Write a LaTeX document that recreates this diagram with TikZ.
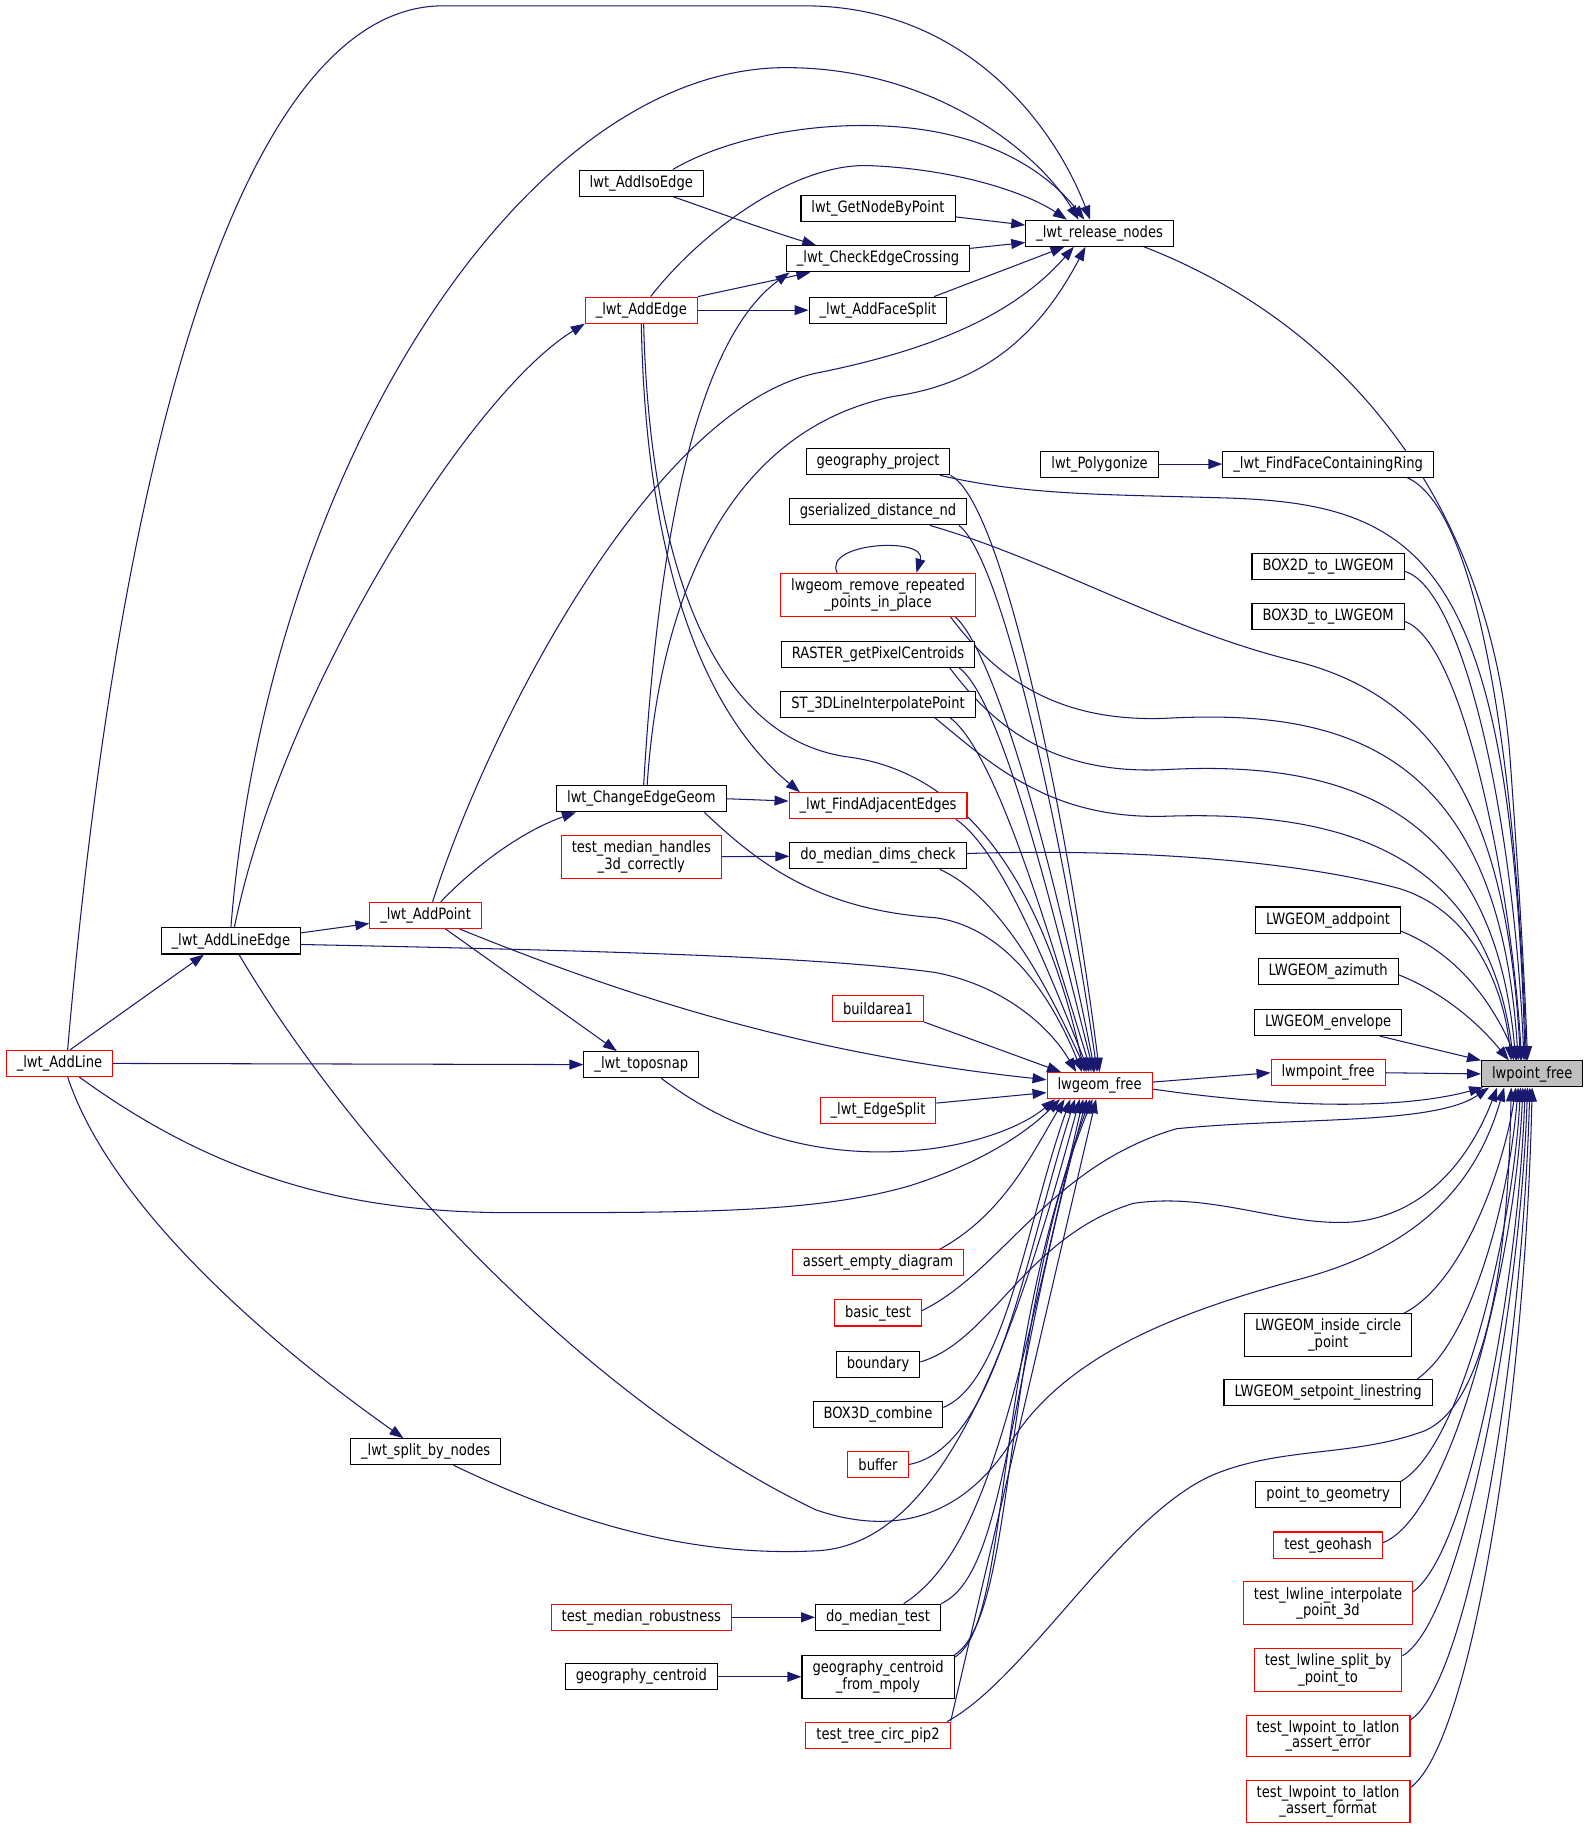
\documentclass[tikz,border=0pt]{standalone}
\usepackage{fontspec}
\newfontfamily\dxfont{DejaVu Sans}[FakeStretch=0.84]
\usetikzlibrary{arrows.meta}
\usetikzlibrary{backgrounds}
\definecolor{edgeblue}{HTML}{191970}
\definecolor{rootgray}{HTML}{BFBFBF}
\tikzset{fn/.style={draw=black, fill=white, line width=0.9pt, inner xsep=9pt, inner ysep=4.5pt, minimum height=22pt, align=center, font=\dxfont\fontsize{13.4pt}{12.7pt}\selectfont}}
\tikzset{fnred/.style={fn, draw=red}}
\tikzset{fnroot/.style={fn, fill=rootgray}}
\tikzset{calls/.style={draw=edgeblue, line width=0.9pt, -{Triangle[length=12pt,width=8.5pt]}}}
\begin{document}
\begin{tikzpicture}[x=1pt,y=-1pt]
\useasboundingbox (0,0) rectangle (1363,1566);
\node[fnred] (addline) at (51,912) {\_lwt\_AddLine};
\node[fn] (addlineedge) at (198,807) {\_lwt\_AddLineEdge};
\node[fnred] (addpoint) at (365,785) {\_lwt\_AddPoint};
\node[fn] (split) at (365,1245) {\_lwt\_split\_by\_nodes};
\node[fn] (isoedge) at (550,157) {lwt\_AddIsoEdge};
\node[fnred] (addedge) at (550,266) {\_lwt\_AddEdge};
\node[fn] (chgeom) at (550,685) {lwt\_ChangeEdgeGeom};
\node[fnred] (tmh3d) at (550,735) {test\_median\_handles\\\_3d\_correctly};
\node[fn] (toposnap) at (550,913) {\_lwt\_toposnap};
\node[fnred] (tmrob) at (550,1387) {test\_median\_robustness};
\node[fn] (geocent) at (550,1438) {geography\_centroid};
\node[fn] (getnode) at (753,179) {lwt\_GetNodeByPoint};
\node[fn] (crossing) at (753,222) {\_lwt\_CheckEdgeCrossing};
\node[fn] (facesplit) at (753,266) {\_lwt\_AddFaceSplit};
\node[fn] (geoproj) at (753,396) {geography\_project};
\node[fn] (gsdist) at (753,439) {gserialized\_distance\_nd};
\node[fnred] (remrep) at (753,510) {lwgeom\_remove\_repeated\\\_points\_in\_place};
\node[fn] (raster) at (753,561) {RASTER\_getPixelCentroids};
\node[fn] (interp) at (753,604) {ST\_3DLineInterpolatePoint};
\node[fnred] (adjedges) at (753,691) {\_lwt\_FindAdjacentEdges};
\node[fn] (dimscheck) at (753,734) {do\_median\_dims\_check};
\node[fnred] (buildarea) at (753,865) {buildarea1};
\node[fnred] (edgesplit) at (753,952) {\_lwt\_EdgeSplit};
\node[fnred] (aed) at (753,1083) {assert\_empty\_diagram};
\node[fnred] (basic) at (753,1126) {basic\_test};
\node[fn] (boundary) at (753,1170) {boundary};
\node[fn] (b3dcomb) at (753,1213) {BOX3D\_combine};
\node[fnred] (buffer) at (753,1256) {buffer};
\node[fn] (medtest) at (753,1387) {do\_median\_test};
\node[fn] (geocentmp) at (753,1438) {geography\_centroid\\\_from\_mpoly};
\node[fnred] (tree) at (753,1488) {test\_tree\_circ\_pip2};
\node[fn] (release) at (943,200) {\_lwt\_release\_nodes};
\node[fn] (polygonize) at (943,398) {lwt\_Polygonize};
\node[fnred] (gfree) at (943,931) {lwgeom\_free};
\node[fn] (findface) at (1139,398) {\_lwt\_FindFaceContainingRing};
\node[fn] (box2d) at (1139,486) {BOX2D\_to\_LWGEOM};
\node[fn] (box3d) at (1139,529) {BOX3D\_to\_LWGEOM};
\node[fn] (addpt) at (1139,789) {LWGEOM\_addpoint};
\node[fn] (azimuth) at (1139,833) {LWGEOM\_azimuth};
\node[fn] (envelope) at (1139,877) {LWGEOM\_envelope};
\node[fnred] (mpfree) at (1139,920) {lwmpoint\_free};
\node[fn] (incircle) at (1139,1145) {LWGEOM\_inside\_circle\\\_point};
\node[fn] (setpoint) at (1139,1194) {LWGEOM\_setpoint\_linestring};
\node[fn] (pt2geom) at (1139,1282) {point\_to\_geometry};
\node[fnred] (geohash) at (1139,1325) {test\_geohash};
\node[fnred] (tlip3d) at (1139,1375) {test\_lwline\_interpolate\\\_point\_3d};
\node[fnred] (tlsplit) at (1139,1432) {test\_lwline\_split\_by\\\_point\_to};
\node[fnred] (tlerr) at (1139,1489) {test\_lwpoint\_to\_latlon\\\_assert\_error};
\node[fnred] (tlfmt) at (1139,1545) {test\_lwpoint\_to\_latlon\\\_assert\_format};
\node[fnroot] (root) at (1314,921) {lwpoint\_free};
\begin{scope}[on background layer]
\fill[white] (0,0) rectangle (1363,1566);
% calls into lwpoint_free
\draw[calls] ([xshift=38pt]release.south) .. controls (1170,285) and (1280,450) .. (1295,650) .. controls (1303,760) and (1308,850) .. ([xshift=-4pt]root.north);
\draw[calls] ([xshift=-23pt]findface.south east) .. controls (1275,440) and (1302,700) .. ([xshift=-5pt]root.north);
\draw[calls] ([yshift=-4pt]box2d.east) .. controls (1255,505) and (1298,700) .. ([xshift=-7pt]root.north);
\draw[calls] ([yshift=-4pt]box3d.east) .. controls (1255,550) and (1296,760) .. ([xshift=-9pt]root.north);
\draw[calls] ([xshift=-9pt]geoproj.south east) .. controls (880,425) and (950,424) .. (1050,427) .. controls (1220,432) and (1295,480) .. ([xshift=-6pt]root.north);
\draw[calls] ([xshift=-32pt]gsdist.south east) .. controls (900,480) and (1000,540) .. (1111,567) .. controls (1230,597) and (1292,690) .. ([xshift=-10pt]root.north);
\draw[calls] ([xshift=-22pt]remrep.south east) .. controls (850,575) and (900,620) .. (1000,616) .. controls (1150,608) and (1285,640) .. ([xshift=-12pt]root.north);
\draw[calls] ([xshift=-22pt]raster.south east) .. controls (850,620) and (900,665) .. (1000,660) .. controls (1150,652) and (1280,690) .. ([xshift=-14pt]root.north);
\draw[calls] ([xshift=-35pt]interp.south east) .. controls (850,655) and (900,703) .. (1000,700) .. controls (1150,695) and (1275,730) .. ([xshift=-16pt]root.north);
\draw[calls] ([yshift=2pt]dimscheck.east) .. controls (950,728) and (1100,735) .. (1200,762) .. controls (1265,782) and (1290,850) .. ([xshift=-18pt]root.north);
\draw[calls] ([yshift=2pt]addpt.south east) .. controls (1250,818) and (1280,860) .. ([xshift=-13pt]root.north);
\draw[calls] ([yshift=-3pt]azimuth.east) .. controls (1240,852) and (1270,880) .. ([xshift=-20pt]root.north);
\draw[calls] ([xshift=-19pt]envelope.south east) -- (root.north west);
\draw[calls] (mpfree.east) -- (root.west);
\draw[calls] ([yshift=-3pt]gfree.east) .. controls (1100,950) and (1200,952) .. ([xshift=-42pt]root.south);
\draw[calls] ([yshift=2pt]basic.east) .. controls (860,1090) and (900,1000) .. (1009,968) .. controls (1110,958) and (1230,965) .. ([xshift=-37pt]root.south);
\draw[calls] ([yshift=2pt]boundary.east) .. controls (850,1150) and (880,1060) .. (972,1032) .. controls (1040,1022) and (1100,1052) .. (1160,1048) .. controls (1225,1042) and (1262,990) .. ([xshift=-30pt]root.south);
\draw[calls] ([xshift=7pt]addlineedge.south) .. controls (300,980) and (500,1200) .. (700,1295) .. controls (780,1322) and (835,1290) .. (870,1232) .. controls (915,1165) and (1000,1128) .. (1111,1098) .. controls (1200,1075) and (1262,1030) .. ([xshift=-24pt]root.south);
\draw[calls] ([xshift=-3pt]tree.north east) .. controls (880,1440) and (960,1300) .. (1040,1265) .. controls (1100,1240) and (1160,1250) .. (1222,1227) .. controls (1282,1200) and (1294,1050) .. ([xshift=-18pt]root.south);
\draw[calls] ([xshift=-7pt]incircle.north east) .. controls (1255,1100) and (1290,1000) .. ([xshift=-14pt]root.south);
\draw[calls] ([xshift=-13pt]setpoint.north east) .. controls (1262,1150) and (1294,1030) .. ([xshift=-12pt]root.south);
\draw[calls] (pt2geom.north east) .. controls (1255,1240) and (1298,1050) .. ([xshift=-10pt]root.south);
\draw[calls] ([yshift=2pt]geohash.east) .. controls (1245,1300) and (1300,1080) .. ([xshift=-8pt]root.south);
\draw[calls] ([yshift=10pt]tlip3d.east) .. controls (1260,1330) and (1302,1100) .. ([xshift=-6pt]root.south);
\draw[calls] ([yshift=12pt]tlsplit.east) .. controls (1255,1390) and (1304,1120) .. ([xshift=-4pt]root.south);
\draw[calls] ([yshift=14pt]tlerr.east) .. controls (1262,1440) and (1306,1150) .. ([xshift=-2pt]root.south);
\draw[calls] ([yshift=12pt]tlfmt.east) .. controls (1262,1495) and (1308,1200) .. (root.south);
% calls into lwgeom_free
\draw[calls] (geoproj.south east) .. controls (860,430) and (915,700) .. (gfree.north);
\draw[calls] ([xshift=-7pt]gsdist.south east) .. controls (860,480) and (912,720) .. ([xshift=-2pt]gfree.north);
\draw[calls] ([xshift=-18pt]remrep.south east) .. controls (855,560) and (908,760) .. ([xshift=-4pt]gfree.north);
\draw[calls] ([xshift=-14pt]raster.south east) .. controls (860,600) and (905,790) .. ([xshift=-5pt]gfree.north);
\draw[calls] ([xshift=-22pt]interp.south east) .. controls (855,645) and (902,810) .. ([xshift=-7pt]gfree.north);
\draw[calls] ([xshift=-10pt]adjedges.south east) .. controls (860,730) and (902,840) .. ([xshift=-9pt]gfree.north);
\draw[calls] ([xshift=-23pt]dimscheck.south east) .. controls (860,770) and (900,850) .. ([xshift=-11pt]gfree.north);
\draw[calls] ([xshift=2pt]addedge.south) .. controls (557,480) and (610,632) .. (726,649) .. controls (830,662) and (895,760) .. ([xshift=-13pt]gfree.north);
\draw[calls] ([xshift=54pt]chgeom.south) .. controls (650,740) and (700,780) .. (802,787) .. controls (860,795) and (900,850) .. ([xshift=-15pt]gfree.north);
\draw[calls] ([yshift=-3pt]addlineedge.east) .. controls (500,815) and (700,820) .. (802,834) .. controls (860,845) and (900,880) .. ([xshift=-20pt]gfree.north);
\draw[calls] (buildarea.south east) -- ([xshift=-33pt]gfree.north);
\draw[calls] ([xshift=29pt]addpoint.south) .. controls (550,860) and (700,905) .. ([yshift=5pt]gfree.west);
\draw[calls] ([yshift=6pt]edgesplit.east) -- ([yshift=-6pt]gfree.west);
\draw[calls] ([xshift=17pt]toposnap.south) .. controls (640,980) and (720,995) .. (800,985) .. controls (850,978) and (882,962) .. ([xshift=-38pt]gfree.south);
\draw[calls] ([xshift=17pt]addline.south) .. controls (200,1020) and (320,1040) .. (440,1040) .. controls (600,1040) and (700,1040) .. (780,1017) .. controls (840,998) and (880,972) .. ([xshift=-34pt]gfree.south);
\draw[calls] ([xshift=-21pt]aed.north east) .. controls (860,1042) and (885,990) .. ([xshift=-30pt]gfree.south);
\draw[calls] ([yshift=6pt]b3dcomb.east) .. controls (862,1185) and (880,1050) .. ([xshift=-25pt]gfree.south);
\draw[calls] (buffer.east) .. controls (855,1242) and (878,1080) .. ([xshift=-21pt]gfree.south);
\draw[calls] ([xshift=24pt]split.south) .. controls (500,1310) and (600,1335) .. (700,1330) .. controls (810,1325) and (870,1150) .. ([xshift=-17pt]gfree.south);
\draw[calls] ([xshift=22pt]medtest.north) .. controls (845,1330) and (870,1200) .. ([xshift=-14pt]gfree.south);
\draw[calls] (medtest.north east) .. controls (862,1350) and (862,1200) .. ([xshift=-11pt]gfree.south);
\draw[calls] (geocentmp.north east) .. controls (872,1385) and (858,1150) .. ([xshift=-8pt]gfree.south);
\draw[calls] ([yshift=-2pt]geocentmp.north east) .. controls (868,1392) and (850,1160) .. ([xshift=-6pt]gfree.south);
\draw[calls] (tree.north east) -- ([xshift=-3pt]gfree.south);
\draw[calls] ([yshift=3pt]gfree.east) -- (mpfree.west);
% other calls
\draw[calls] (polygonize) -- (findface);
\draw[calls] (tmh3d) -- (dimscheck);
\draw[calls] (tmrob) -- (medtest);
\draw[calls] (geocent) -- (geocentmp);
\draw[calls] (chgeom.east) -- ([yshift=4pt]adjedges.west);
\draw[calls] ([xshift=13pt]addpoint.north) .. controls (410,740) and (450,712) .. ([xshift=-56pt]chgeom.south);
\draw[calls] ([xshift=17pt]addpoint.south) -- ([xshift=-21pt]toposnap.north);
\draw[calls] ([yshift=7pt]addlineedge.east) -- ([yshift=-7pt]addpoint.west);
\draw[calls] ([xshift=9pt]addline.north) -- ([xshift=-23pt]addlineedge.south);
\draw[calls] (addline.east) -- (toposnap.west);
\draw[calls] ([xshift=7pt]addline.south) .. controls (90,1020) and (200,1130) .. ([xshift=-19pt]split.north);
\draw[calls] ([xshift=3pt]addlineedge.north) .. controls (240,600) and (400,340) .. (addedge.south west);
\draw[calls] (addedge.east) -- (facesplit.west);
\draw[calls] (addedge.north east) -- ([xshift=-58pt]crossing.south);
\draw[calls] (addedge.south) .. controls (553,450) and (590,600) .. ([xshift=-67pt]adjedges.north);
\draw[calls] ([xshift=2pt]chgeom.north) .. controls (565,450) and (600,290) .. ([xshift=-76pt]crossing.south);
\draw[calls] ([xshift=27pt]isoedge.south) .. controls (610,180) and (650,195) .. ([xshift=-53pt]crossing.north);
\draw[calls] ([xshift=-35pt]remrep.north) .. controls (705,465) and (795,460) .. ([xshift=33pt]remrep.north);
% calls into _lwt_release_nodes
\draw[calls] ([xshift=7pt]addline.north) .. controls (110,300) and (230,5) .. (380,5) -- (690,5) .. controls (830,5) and (905,110) .. ([xshift=-8pt]release.north);
\draw[calls] (addlineedge.north) .. controls (230,400) and (450,58) .. (674,58) .. controls (800,58) and (890,130) .. ([xshift=-18pt]release.north);
\draw[calls] ([xshift=27pt]isoedge.north) .. controls (620,120) and (690,105) .. (757,108) .. controls (850,112) and (900,150) .. ([xshift=-13pt]release.north);
\draw[calls] ([xshift=8pt]addedge.north) .. controls (600,200) and (680,140) .. (745,142) .. controls (820,145) and (880,165) .. ([xshift=-28pt]release.north);
\draw[calls] ([yshift=-7pt]getnode.east) -- ([yshift=7pt]release.west);
\draw[calls] ([yshift=9pt]crossing.east) -- ([yshift=-8pt]release.west);
\draw[calls] ([xshift=48pt]facesplit.north) -- ([xshift=-30pt]release.south);
\draw[calls] ([xshift=6pt]addpoint.north) .. controls (420,620) and (560,350) .. (700,320) .. controls (800,300) and (870,270) .. ([xshift=-22pt]release.south);
\draw[calls] ([xshift=5pt]chgeom.north) .. controls (565,520) and (620,370) .. (766,340) .. controls (850,328) and (895,280) .. ([xshift=-12pt]release.south);
\end{scope}
\end{tikzpicture}
\end{document}
